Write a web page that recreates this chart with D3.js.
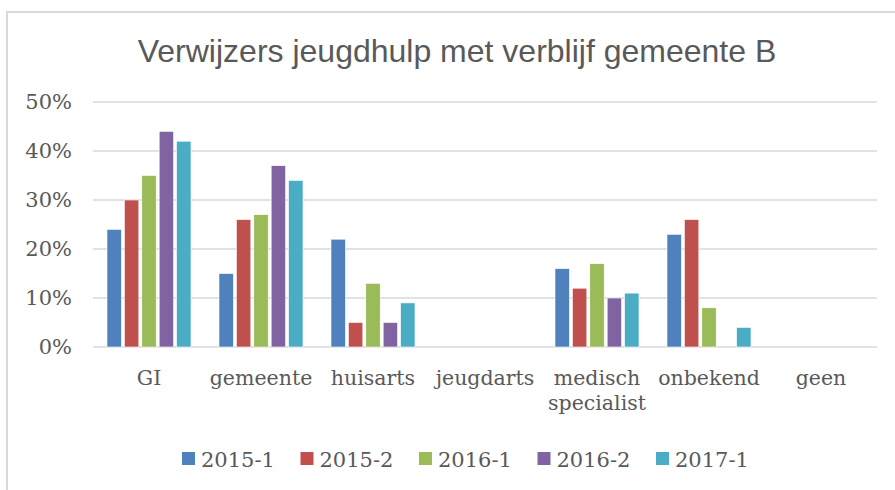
<!DOCTYPE html>
<html>
<head>
<meta charset="utf-8">
<script src="https://cdn.jsdelivr.net/npm/d3@7"></script>
<style>
  body { margin: 0; background: #fff; }
  svg { display: block; }
</style>
</head>
<body>
<div id="chart"></div>
<script>
// data
var categories = ['GI', 'gemeente', 'huisarts', 'jeugdarts', 'medisch specialist', 'onbekend', 'geen'];
var series = ['2015-1', '2015-2', '2016-1', '2016-2', '2017-1'];
var colors = ['#4f81bd', '#c0504d', '#9bbb59', '#8064a2', '#4bacc6'];
// one row per series, one value per category (null = no bar)
var v2015_1 = [0.24, 0.15, 0.22, null, 0.16, 0.23, null];
var v2015_2 = [0.30, 0.26, 0.05, null, 0.12, 0.26, null];
var v2016_1 = [0.35, 0.27, 0.13, null, 0.17, 0.08, null];
var v2016_2 = [0.44, 0.37, 0.05, null, 0.10, null, null];
var v2017_1 = [0.42, 0.34, 0.09, null, 0.11, 0.04, null];
var yTicks = [0, 0.1, 0.2, 0.3, 0.4, 0.5];
var title = 'Verwijzers jeugdhulp met verblijf gemeente B';

var values = [v2015_1, v2015_2, v2016_1, v2016_2, v2017_1];

var width = 895, height = 490;
var plotLeft = 93, plotRight = 877, plotTop = 102, plotBottom = 347;

var svg = d3.select('#chart').append('svg')
    .attr('width', width)
    .attr('height', height);

// outer frame
svg.append('rect')
    .attr('x', 7).attr('y', 12)
    .attr('width', 900).attr('height', 500)
    .attr('fill', 'none')
    .attr('stroke', '#d9d9d9')
    .attr('stroke-width', 2);

svg.append('text')
    .attr('x', 457)
    .attr('y', 62)
    .attr('text-anchor', 'middle')
    .attr('font-family', 'Liberation Sans, Arial, sans-serif')
    .attr('font-size', '32px')
    .attr('fill', '#595959')
    .text(title);

var x0 = d3.scaleBand().domain(categories).range([plotLeft, plotRight]);
var x1 = d3.scaleBand().domain(series).range([-42, 42]).paddingInner(0.17);
var y = d3.scaleLinear().domain([0, 0.5]).range([plotBottom, plotTop]);

// gridlines
svg.selectAll('line.grid')
    .data(yTicks)
    .enter()
    .append('line')
    .attr('class', 'grid')
    .attr('x1', plotLeft).attr('x2', plotRight)
    .attr('y1', function(d){ return y(d); })
    .attr('y2', function(d){ return y(d); })
    .attr('stroke', '#d9d9d9')
    .attr('stroke-width', 1.5);

// y axis labels
svg.selectAll('text.ytick')
    .data(yTicks)
    .enter()
    .append('text')
    .attr('class', 'ytick')
    .attr('x', 72)
    .attr('y', function(d){ return y(d) + 7; })
    .attr('text-anchor', 'end')
    .attr('font-family', 'DejaVu Serif, serif')
    .attr('font-size', '21px')
    .attr('fill', '#595959')
    .text(d3.format('.0%'));

// bars
var groups = svg.selectAll('g.series')
    .data(series)
    .enter()
    .append('g')
    .attr('class', 'series')
    .attr('fill', function(d, i){ return colors[i]; });

groups.each(function(s, si) {
    var pts = categories.map(function(c, ci){ return {cat: c, v: values[si][ci]}; })
        .filter(function(d){ return d.v !== null; });
    d3.select(this).selectAll('rect')
        .data(pts)
        .enter()
        .append('rect')
        .attr('x', function(d){ return x0(d.cat) + x0.bandwidth() / 2 + x1(s); })
        .attr('y', function(d){ return y(d.v); })
        .attr('width', x1.bandwidth())
        .attr('height', function(d){ return plotBottom - y(d.v); })
        .attr('stroke', '#fff')
        .attr('stroke-width', 0.6);
});

// category labels
svg.selectAll('text.xlab')
    .data(categories)
    .enter()
    .append('text')
    .attr('class', 'xlab')
    .attr('text-anchor', 'middle')
    .attr('font-family', 'DejaVu Serif, serif')
    .attr('font-size', '20.5px')
    .attr('fill', '#595959')
    .each(function(d) {
        var words = d === 'medisch specialist' ? ['medisch', 'specialist'] : [d];
        var t = d3.select(this);
        words.forEach(function(w, i) {
            t.append('tspan')
                .attr('x', x0(d) + x0.bandwidth() / 2)
                .attr('y', 385 + i * 25)
                .text(w);
        });
    });

// legend
var legend = svg.selectAll('g.legend')
    .data(series)
    .enter()
    .append('g')
    .attr('class', 'legend')
    .attr('transform', function(d, i){ return 'translate(' + (182 + i * 118.5) + ',452)'; });

legend.append('rect')
    .attr('width', 13).attr('height', 13)
    .attr('fill', function(d, i){ return colors[i]; });

legend.append('text')
    .attr('x', 19)
    .attr('y', 15)
    .attr('font-family', 'DejaVu Serif, serif')
    .attr('font-size', '21px')
    .attr('fill', '#595959')
    .text(function(d){ return d; });
</script>
</body>
</html>
